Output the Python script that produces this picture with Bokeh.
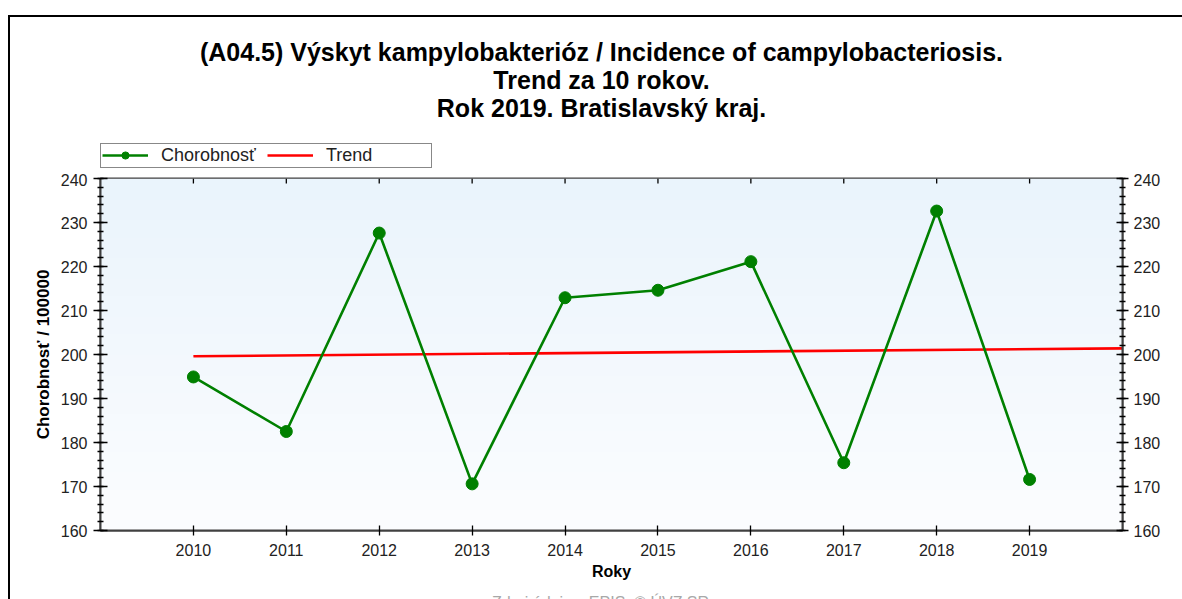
import numpy as np
from bokeh.plotting import figure
from bokeh.layouts import column
from bokeh.models import (Range1d, LinearAxis, FixedTicker, SingleIntervalTicker,
                          Legend, LegendItem)
from bokeh.core.properties import value
from bokeh.embed import file_html
from bokeh.resources import INLINE

# ---------------- data ----------------
years = [2010, 2011, 2012, 2013, 2014, 2015, 2016, 2017, 2018, 2019]
incidence = [194.9, 182.5, 227.6, 170.6, 212.9, 214.6, 221.1, 175.4, 232.6, 171.6]
trend_years = [2010, 2020]
trend_values = [199.6, 201.4]
series_names = ["Chorobnosť", "Trend"]
title_lines = ["(A04.5) Výskyt kampylobakterióz / Incidence of campylobacteriosis.",
               "Trend za 10 rokov.",
               "Rok 2019. Bratislavský kraj."]
x_label = "Roky"
y_label = "Chorobnosť / 100000"
source_text = ["Zdroj údajov: EPIS, © ÚVZ SR"]
x_min, x_max = 2009, 2020
y_min, y_max = 160, 240

FONT = "Liberation Sans"
GREEN, RED = "#008000", "#ff0000"
W = 1172
H_HEAD, H_MAIN, H_FOOT = 156, 415, 11
FL, FR = 90, 1112          # plot-area left/right edge (canvas px), shared by all rows

def blank_fig(h):
    # helper figure whose data units equal canvas pixels (y downward)
    f = figure(width=W, height=h, x_range=Range1d(FL, FR), y_range=Range1d(h, 0),
               title=None, output_backend="svg", toolbar_location=None,
               x_axis_location=None, y_axis_location=None,
               min_border_left=FL, min_border_right=W - FR,
               min_border_top=0, min_border_bottom=0)
    f.outline_line_color = None
    f.background_fill_color = "white"
    f.border_fill_color = "white"
    f.xgrid.visible = False
    f.ygrid.visible = False
    return f

# ---------------- header: titles + legend ----------------
head = blank_fig(H_HEAD)
head.text(x=[591, 591, 591], y=[34, 62, 90], text=title_lines,
          text_align="center", text_baseline="alphabetic",
          text_font=value(FONT), text_font_size="25px", text_font_style="bold",
          text_color="black")
# legend proxies: same series and styles (their points fall outside this row's range)
lg_line = head.line(years, incidence, line_color=GREEN, line_width=2.6)
lg_pts = head.scatter(years, incidence, size=11, marker="circle",
                      fill_color=GREEN, line_color=GREEN)
lg_trend = head.line(trend_years, trend_values, line_color=RED, line_width=2.6)
legend = Legend(items=[LegendItem(label=series_names[0], renderers=[lg_line, lg_pts], index=0),
                       LegendItem(label=series_names[1], renderers=[lg_trend], index=0)],
                orientation="horizontal", location=(0, 5.5), margin=0,
                padding=1, spacing=2, label_standoff=13, label_width=104,
                glyph_width=46, glyph_height=18, label_height=18,
                label_text_font=FONT, label_text_font_size="18px",
                label_text_color="#222222",
                background_fill_color="white", background_fill_alpha=1,
                border_line_color="#111111", border_line_width=1.3)
head.add_layout(legend, "center")

# ---------------- main chart ----------------
FT, FB = 5, 357
p = figure(width=W, height=H_MAIN, x_range=Range1d(x_min, x_max), y_range=Range1d(y_min, y_max),
           title=None, output_backend="svg", toolbar_location=None,
           x_axis_location=None, y_axis_location=None,
           min_border_left=FL, min_border_right=W - FR,
           min_border_top=FT, min_border_bottom=H_MAIN - FB)
p.outline_line_color = "#404040"
p.outline_line_width = 2
p.background_fill_color = "white"
p.border_fill_color = "white"
p.xgrid.visible = False
p.ygrid.visible = False

# background gradient of the plot area
top_c = np.array([234, 244, 252], dtype=float)
bot_c = np.array([252, 253, 255], dtype=float)
n = 120
t = np.linspace(0, 1, n)[:, None]
rgb = (bot_c * (1 - t) + top_c * t).astype(np.uint32)
row = (255 << 24) | (rgb[:, 2] << 16) | (rgb[:, 1] << 8) | rgb[:, 0]
img = np.repeat(row[:, None], 4, axis=1).astype(np.uint32)
p.image_rgba(image=[img], x=x_min, y=y_min, dw=x_max - x_min, dh=y_max - y_min)

def style_axis(ax, label_size="16px"):
    ax.axis_line_color = "#404040"
    ax.axis_line_width = 2
    ax.major_tick_line_color = "black"
    ax.major_tick_line_width = 1.3
    ax.minor_tick_line_color = "black"
    ax.minor_tick_line_width = 1.3
    ax.major_label_text_font = FONT
    ax.major_label_text_font_size = label_size
    ax.major_label_text_color = "#222222"
    ax.axis_label_text_font = FONT
    ax.axis_label_text_font_style = "bold"
    ax.axis_label_text_color = "black"

xb = LinearAxis(ticker=FixedTicker(ticks=years), axis_label=x_label)
style_axis(xb)
xb.major_tick_in = 5
xb.major_tick_out = 5
xb.minor_tick_in = 0
xb.minor_tick_out = 0
xb.major_label_standoff = 8
xb.axis_label_standoff = 4
xb.axis_label_text_font_size = "16px"
p.add_layout(xb, "below")

yl = LinearAxis(ticker=SingleIntervalTicker(interval=10, num_minor_ticks=5), axis_label=y_label)
style_axis(yl)
yl.major_tick_in = 7
yl.major_tick_out = 7
yl.minor_tick_in = 3
yl.minor_tick_out = 3
yl.major_label_standoff = 6
yl.axis_label_standoff = 5
yl.axis_label_text_font_size = "17px"
p.add_layout(yl, "left")

yr = LinearAxis(ticker=SingleIntervalTicker(interval=10, num_minor_ticks=5))
style_axis(yr)
yr.major_tick_in = 6
yr.major_tick_out = 6
yr.minor_tick_in = 3
yr.minor_tick_out = 3
yr.major_label_standoff = 5
p.add_layout(yr, "right")

# tick marks along the top edge of the plot area (pointing inward)
p.ray(x=years, y=[y_max] * len(years), length=5, length_units="screen",
      angle=-np.pi / 2, line_color="black", line_width=1.3)

# data
p.line(trend_years, trend_values, line_color=RED, line_width=2.6)
p.line(years, incidence, line_color=GREEN, line_width=2.6)
p.scatter(years, incidence, size=12, marker="circle", fill_color=GREEN, line_color=GREEN)

# ---------------- footer: source note ----------------
foot = blank_fig(H_FOOT)
foot.text(x=[590], y=[13], text=source_text, text_align="center",
          text_baseline="alphabetic", text_font=value(FONT), text_font_size="16px",
          text_color="#a8a8a8")

page = column(head, p, foot, spacing=0,
              styles={"margin-left": "8px", "margin-top": "15px",
                      "border-left": "2px solid black", "border-top": "2px solid black"})

open("out.html", "w").write(file_html(page, INLINE))
